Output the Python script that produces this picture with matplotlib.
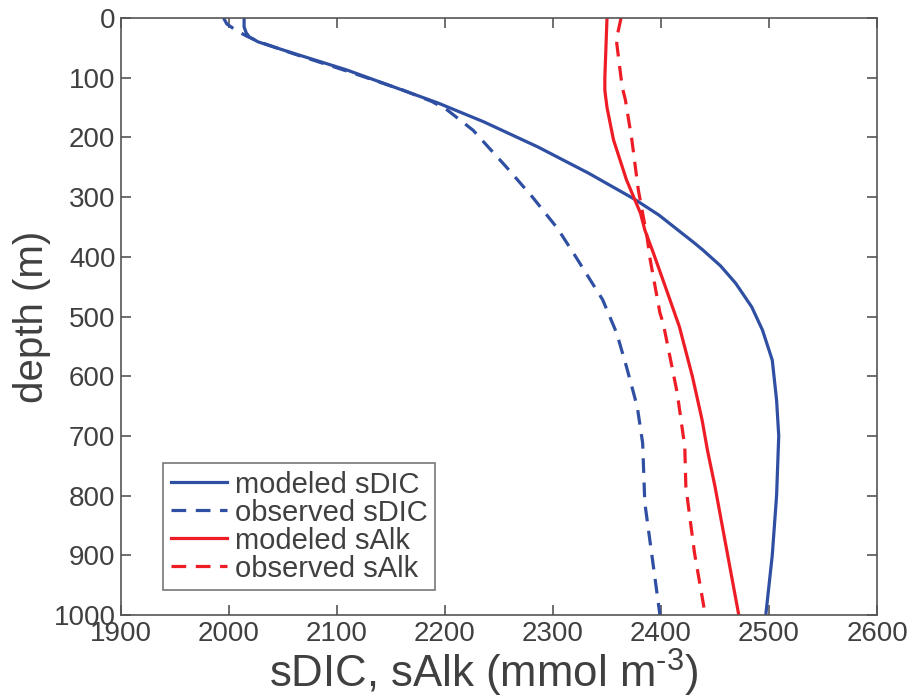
import numpy as np
import matplotlib.pyplot as plt

plt.rcParams['font.family'] = ['Liberation Sans', 'DejaVu Sans']
plt.rcParams['mathtext.fontset'] = 'custom'
plt.rcParams['mathtext.rm'] = 'Liberation Sans'

# depth (m) and values (mmol m-3)
dic_mod_z = [0, 15, 25, 32, 40, 57, 87, 142, 174, 216, 260, 303, 330, 377, 389, 415, 444, 484, 523, 573, 640, 700, 800, 900, 1000]
dic_mod = [2014, 2014, 2016, 2019, 2027, 2056, 2109, 2193, 2236, 2286, 2333, 2375, 2398, 2431, 2439, 2455, 2469, 2484, 2494, 2503, 2507, 2509, 2507, 2503, 2497]

dic_obs_z = [0, 10, 20, 30, 40, 60, 90, 120, 140, 154, 188, 250, 300, 352, 394, 472, 528, 584, 651, 712, 812, 879, 1000]
dic_obs = [1995, 1998, 2006, 2016, 2028, 2060, 2111, 2160, 2188, 2202, 2226, 2257, 2281, 2304, 2319, 2346, 2359, 2368, 2378, 2383, 2385, 2390, 2399]

alk_mod_z = [0, 50, 100, 121, 150, 204, 271, 327, 355, 394, 450, 517, 600, 673, 724, 785, 1000]
alk_mod = [2350, 2349, 2348, 2348, 2350, 2356, 2368, 2381, 2385, 2393, 2404, 2417, 2429, 2438, 2443, 2450, 2472]

alk_obs_z = [0, 25, 42, 115, 137, 204, 288, 366, 405, 494, 511, 628, 718, 785, 896, 1000]
alk_obs = [2363, 2360, 2359, 2364, 2367, 2373, 2379, 2387, 2390, 2399, 2402, 2415, 2422, 2423, 2431, 2441]

blue = '#2f4fa2'
red = '#ee1d25'
grey = '#404040'

fig = plt.figure(figsize=(9.15, 7.0), dpi=100)
ax = fig.add_axes([0.1322, 0.1214, 0.8263, 0.8529])

lw = 2.3
ax.plot(dic_mod, dic_mod_z, color=blue, lw=lw, label='modeled sDIC')
ax.plot(dic_obs, dic_obs_z, color=blue, lw=lw, dashes=(4.6, 3.0), label='observed sDIC')
ax.plot(alk_mod, alk_mod_z, color=red, lw=lw, label='modeled sAlk')
ax.plot(alk_obs, alk_obs_z, color=red, lw=lw, dashes=(4.6, 3.0), label='observed sAlk')

ax.set_xlim(1900, 2600)
ax.set_ylim(1000, 0)
ax.set_xticks(np.arange(1900, 2601, 100))
ax.set_yticks(np.arange(0, 1001, 100))

for s in ax.spines.values():
    s.set_color('#555555')
    s.set_linewidth(1.2)
ax.tick_params(direction='in', length=7, width=1.2, color='#555555',
               labelsize=20, labelcolor=grey, top=True, right=True, pad=4)

ax.set_xlabel(r'sDIC, sAlk (mmol m$^{\text{-3}}$)', fontsize=31.5, color=grey,
              labelpad=0, x=0.48)
ax.set_ylabel('depth (m)', fontsize=29, color=grey, labelpad=2)

leg = ax.legend(loc='lower left', bbox_to_anchor=(0.056, 0.042), fontsize=21,
                frameon=True, fancybox=False, labelspacing=0.0, handlelength=1.95,
                handletextpad=0.25, borderpad=0.25, borderaxespad=0)
leg.get_frame().set_edgecolor('#555555')
leg.get_frame().set_linewidth(1.2)
for t in leg.get_texts():
    t.set_color(grey)

fig.savefig('out.png', dpi=100)
